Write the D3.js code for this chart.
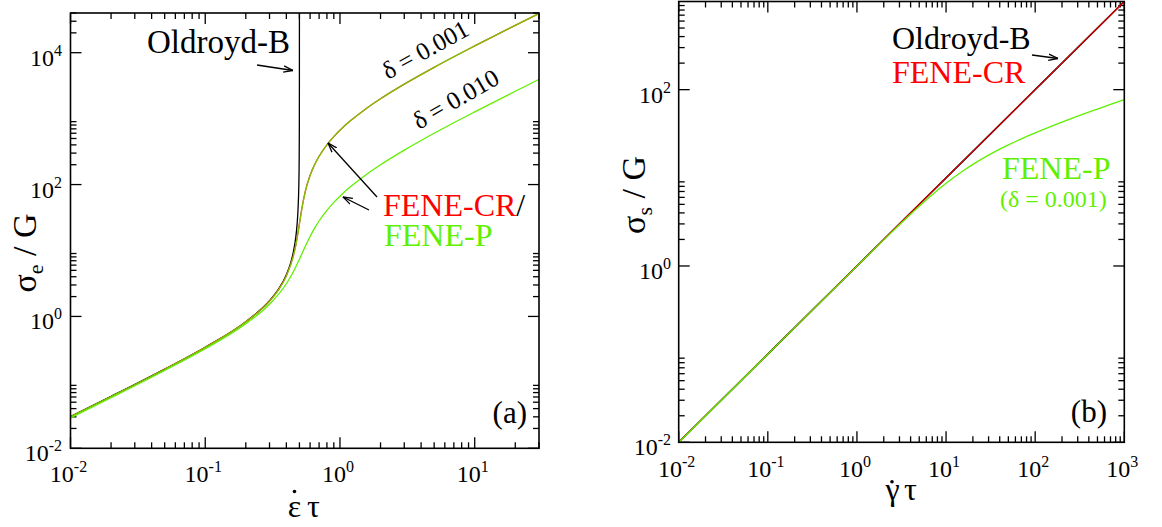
<!DOCTYPE html>
<html>
<head>
<meta charset="utf-8">
<script src="https://cdn.jsdelivr.net/npm/d3@7"></script>
<style>
  body { margin: 0; background: #fff; }
  svg { display: block; }
  svg text { font-family: "Liberation Serif", "Tinos", "Times New Roman", "Times", "DejaVu Serif", "Noto Serif", serif; }
</style>
</head>
<body>
<svg id="chart" width="1162" height="527"></svg>
<script>
// ---------------- DATA ----------------
// Panel (a): extensional stress vs. extension rate
const oldroydExtRate = [0.01, 0.02, 0.05, 0.1, 0.2, 0.3, 0.35, 0.4, 0.43, 0.45, 0.47, 0.48, 0.49, 0.495, 0.498, 0.499, 0.4995, 0.4998, 0.4999, 0.49995, 0.49998, 0.49999];
const oldroydExt     = [0.0303, 0.0613, 0.159, 0.341, 0.833, 1.73, 2.59, 4.29, 6.44, 9.31, 16.0, 24.3, 49.3, 99.3, 249, 499, 999, 2500, 5000, 10000, 25000, 50000];

const feneExtRate001 = [0.01, 0.02, 0.05, 0.1, 0.2, 0.3, 0.35, 0.4, 0.45, 0.47, 0.49, 0.5, 0.52, 0.55, 0.6, 0.65, 0.7, 0.8, 0.9, 1, 1.2, 1.5, 2, 3, 5, 10, 20, 30];
const feneCRExt001   = [0.0302, 0.0610, 0.158, 0.340, 0.829, 1.713, 2.55, 4.14, 8.23, 12.1, 19.6, 25.5, 42.1, 75.4, 138.1, 203, 269, 401.3, 534, 667, 933, 1333, 1999, 3333, 6000, 12670, 26010, 39350];
const fenePExt001    = [0.0302, 0.0610, 0.158, 0.339, 0.827, 1.707, 2.537, 4.105, 8.11, 11.93, 19.24, 25.0, 41.4, 74.5, 137.2, 202.4, 268.3, 400.8, 533.9, 667, 933.5, 1333, 1999, 3333, 6001, 12671, 26012, 39350];

const feneExtRate010 = [0.01, 0.02, 0.05, 0.1, 0.2, 0.3, 0.4, 0.45, 0.5, 0.55, 0.6, 0.65, 0.7, 0.8, 0.9, 1, 1.2, 1.5, 2, 3, 5, 10, 20, 30];
const fenePExt010    = [0.0290, 0.0586, 0.1515, 0.3237, 0.776, 1.531, 3.129, 4.724, 7.357, 11.31, 16.32, 21.99, 28.0, 40.65, 53.6, 66.7, 93.1, 132.9, 199.4, 332.7, 599.4, 1266, 2600, 3935];

// Panel (b): shear stress vs. shear rate
const shearRate      = [0.01, 0.1, 1, 10, 100, 1000];
const oldroydShear   = [0.01, 0.1, 1, 10, 100, 1000];
const feneCRShear    = [0.01, 0.1, 1, 10, 100, 1000];
const fenePShearRate = [0.01, 0.1, 1, 2, 3, 5, 7, 10, 15, 20, 30, 50, 70, 100, 200, 300, 500, 700, 1000];
const fenePShear     = [0.00997, 0.0997, 0.997, 1.978, 2.939, 4.769, 6.445, 8.671, 11.73, 14.21, 18.09, 23.6, 27.65, 32.3, 42.8, 50.0, 60.3, 68.1, 77.3];

// Axis ticks (major values and their exponent labels)
const xMajorA = [1e-2, 1e-1, 1e0, 1e1];
const xLabelA = ["-2", "-1", "0", "1"];
const yMajorA = [1e-2, 1e0, 1e2, 1e4];
const yLabelA = ["-2", "0", "2", "4"];
const xMajorB = [1e-2, 1e-1, 1e0, 1e1, 1e2, 1e3];
const xLabelB = ["-2", "-1", "0", "1", "2", "3"];
const yMajorB = [1e-2, 1e0, 1e2];
const yLabelB = ["-2", "0", "2"];

// ---------------- STYLE ----------------
const RED = "#ff0000";
const GREEN = "#5ff000";
const FONT = "'Liberation Serif', 'Tinos', 'Times New Roman', 'DejaVu Serif', serif";
const svg = d3.select("#chart");

const defs = svg.append("defs");
defs.append("marker")
  .attr("id", "arrow")
  .attr("viewBox", "0 0 10 8")
  .attr("refX", 9.5).attr("refY", 4)
  .attr("markerWidth", 10).attr("markerHeight", 8)
  .attr("markerUnits", "userSpaceOnUse")
  .attr("orient", "auto")
  .append("path")
  .attr("d", "M0,0.8 L9.5,4 L0,7.2")
  .attr("fill", "none").attr("stroke", "#000").attr("stroke-width", 1.3);

function zip(a, b) { return a.map((v, i) => [v, b[i]]); }
function txt(sel) { return sel.append("text").attr("font-family", FONT); }

function panel(opts) {
  const { id, x, y, xMajor, xLabel, yMajor, yLabel, yMinorBases, xLabelBase, yLabelEnd } = opts;
  const g = svg.append("g");
  const [x0, x1] = x.range();
  const [y0, y1] = y.range();
  const xMax = x.domain()[1], yMax = y.domain()[1];

  defs.append("clipPath").attr("id", "clip" + id)
    .append("rect").attr("x", x0).attr("y", y1).attr("width", x1 - x0).attr("height", y0 - y1);

  const MAJ = 11, MIN = 6;
  const xMinor = [];
  xMajor.forEach(d => { for (let k = 2; k <= 9; k++) { const v = d * k; if (v <= xMax * 1.0001) xMinor.push(v); } });
  const yMinor = [];
  yMinorBases.forEach(d => { for (let k = 2; k <= 9; k++) { const v = d * k; if (v <= yMax * 1.0001) yMinor.push(v); } });

  const tk = g.append("g").attr("stroke", "#000").attr("stroke-width", 1.3);
  xMajor.forEach(v => {
    tk.append("line").attr("x1", x(v)).attr("x2", x(v)).attr("y1", y0).attr("y2", y0 - MAJ);
    tk.append("line").attr("x1", x(v)).attr("x2", x(v)).attr("y1", y1).attr("y2", y1 + MAJ);
  });
  xMinor.forEach(v => {
    tk.append("line").attr("x1", x(v)).attr("x2", x(v)).attr("y1", y0).attr("y2", y0 - MIN);
    tk.append("line").attr("x1", x(v)).attr("x2", x(v)).attr("y1", y1).attr("y2", y1 + MIN);
  });
  yMajor.forEach(v => {
    tk.append("line").attr("y1", y(v)).attr("y2", y(v)).attr("x1", x0).attr("x2", x0 + MAJ);
    tk.append("line").attr("y1", y(v)).attr("y2", y(v)).attr("x1", x1).attr("x2", x1 - MAJ);
  });
  yMinor.forEach(v => {
    tk.append("line").attr("y1", y(v)).attr("y2", y(v)).attr("x1", x0).attr("x2", x0 + MIN);
    tk.append("line").attr("y1", y(v)).attr("y2", y(v)).attr("x1", x1).attr("x2", x1 - MIN);
  });

  xMajor.forEach((v, i) => {
    const t = txt(g).attr("x", x(v) - 2).attr("y", xLabelBase)
      .attr("text-anchor", "middle").attr("font-size", 24);
    t.append("tspan").text("10");
    t.append("tspan").attr("dy", -10).attr("font-size", 16).text(xLabel[i]);
  });
  yMajor.forEach((v, i) => {
    const t = txt(g).attr("x", yLabelEnd).attr("y", y(v) + 13)
      .attr("text-anchor", "end").attr("font-size", 24);
    t.append("tspan").text("10");
    t.append("tspan").attr("dy", -10).attr("font-size", 16).text(yLabel[i]);
  });

  const plot = g.append("g").attr("clip-path", `url(#clip${id})`);
  return { g, plot, x, y, frame: () => g.append("rect").attr("x", x0).attr("y", y1)
      .attr("width", x1 - x0).attr("height", y0 - y1)
      .attr("fill", "none").attr("stroke", "#000").attr("stroke-width", 1.6) };
}

// ---------------- PANEL (a) ----------------
const xA = d3.scaleLog().domain([0.01, 30]).range([70.5, 539]);
const yA = d3.scaleLog().domain([0.01, 4e4]).range([448.3, 13]);
const A = panel({ id: "A", x: xA, y: yA, xMajor: xMajorA, xLabel: xLabelA, yMajor: yMajorA, yLabel: yLabelA,
  yMinorBases: yMajorA, xLabelBase: 482, yLabelEnd: 62 });

const lineA = d3.line().x(d => xA(d[0])).y(d => yA(d[1])).curve(d3.curveMonotoneX);
A.plot.append("path").datum(zip(oldroydExtRate, oldroydExt)).attr("d", lineA)
  .attr("fill", "none").attr("stroke", "#000").attr("stroke-width", 1.3);
A.plot.append("path").datum(zip(feneExtRate001, feneCRExt001)).attr("d", lineA)
  .attr("fill", "none").attr("stroke", RED).attr("stroke-width", 1.3);
A.plot.append("path").datum(zip(feneExtRate001, fenePExt001)).attr("d", lineA)
  .attr("fill", "none").attr("stroke", GREEN).attr("stroke-width", 1.3).attr("stroke-opacity", 0.8);
A.plot.append("path").datum(zip(feneExtRate010, fenePExt010)).attr("d", lineA)
  .attr("fill", "none").attr("stroke", GREEN).attr("stroke-width", 1.3);
A.frame();

// annotations (a)
txt(A.g).attr("x", 147).attr("y", 53).attr("font-size", 33).text("Oldroyd-B");
A.g.append("line").attr("x1", 257).attr("y1", 65).attr("x2", 293).attr("y2", 70.5)
  .attr("stroke", "#000").attr("stroke-width", 1.3).attr("marker-end", "url(#arrow)");
txt(A.g).attr("font-size", 25).attr("transform", "translate(388,80) rotate(-29)").text("δ = 0.001");
txt(A.g).attr("font-size", 25).attr("transform", "translate(419,130) rotate(-30)").text("δ = 0.010");
const fcr = txt(A.g).attr("x", 383).attr("y", 216).attr("font-size", 32);
fcr.append("tspan").attr("fill", RED).text("FENE-CR");
fcr.append("tspan").attr("fill", "#000").text("/");
txt(A.g).attr("x", 384).attr("y", 246).attr("font-size", 32).attr("fill", GREEN).text("FENE-P");
A.g.append("line").attr("x1", 377).attr("y1", 197).attr("x2", 328).attr("y2", 143)
  .attr("stroke", "#000").attr("stroke-width", 1.3).attr("marker-end", "url(#arrow)");
A.g.append("line").attr("x1", 369).attr("y1", 210).attr("x2", 343).attr("y2", 197)
  .attr("stroke", "#000").attr("stroke-width", 1.3).attr("marker-end", "url(#arrow)");
txt(A.g).attr("x", 527).attr("y", 423).attr("text-anchor", "end").attr("font-size", 31).text("(a)");

// axis titles (a)
const ytA = txt(A.g).attr("font-size", 34).attr("text-anchor", "middle")
  .attr("transform", "translate(36,253) rotate(-90)");
ytA.append("tspan").text("σ");
ytA.append("tspan").attr("font-size", 22).attr("dy", 7).text("e");
ytA.append("tspan").attr("dy", -7).text(" / G");
txt(A.g).attr("x", 294.5).attr("y", 517).attr("text-anchor", "middle").attr("font-size", 32).text("ε");
txt(A.g).attr("x", 313.5).attr("y", 517).attr("text-anchor", "middle").attr("font-size", 32).text("τ");
A.g.append("circle").attr("cx", 294.5).attr("cy", 491.5).attr("r", 1.8).attr("fill", "#000");

// ---------------- PANEL (b) ----------------
const xB = d3.scaleLog().domain([0.01, 1000]).range([678.7, 1124.3]);
const yB = d3.scaleLog().domain([0.01, 1000]).range([442.3, 1.5]);
const B = panel({ id: "B", x: xB, y: yB, xMajor: xMajorB, xLabel: xLabelB, yMajor: yMajorB, yLabel: yLabelB,
  yMinorBases: yMajorB, xLabelBase: 477, yLabelEnd: 671 });

const lineB = d3.line().x(d => xB(d[0])).y(d => yB(d[1])).curve(d3.curveMonotoneX);
B.plot.append("path").datum(zip(shearRate, oldroydShear)).attr("d", lineB)
  .attr("fill", "none").attr("stroke", "#000").attr("stroke-width", 1.6);
B.plot.append("path").datum(zip(shearRate, feneCRShear)).attr("d", lineB)
  .attr("fill", "none").attr("stroke", RED).attr("stroke-width", 1.2).attr("stroke-opacity", 0.9);
B.plot.append("path").datum(zip(fenePShearRate, fenePShear)).attr("d", lineB)
  .attr("fill", "none").attr("stroke", GREEN).attr("stroke-width", 1.3);
B.frame();

// annotations (b)
txt(B.g).attr("x", 892).attr("y", 49).attr("font-size", 32).text("Oldroyd-B");
txt(B.g).attr("x", 892).attr("y", 83).attr("font-size", 32).attr("fill", RED).text("FENE-CR");
B.g.append("line").attr("x1", 1032).attr("y1", 55).attr("x2", 1058).attr("y2", 58.5)
  .attr("stroke", "#000").attr("stroke-width", 1.3).attr("marker-end", "url(#arrow)");
txt(B.g).attr("x", 1002).attr("y", 179).attr("font-size", 32).attr("fill", GREEN).text("FENE-P");
txt(B.g).attr("x", 1000).attr("y", 207).attr("font-size", 24).attr("fill", GREEN).text("(δ = 0.001)");
txt(B.g).attr("x", 1107).attr("y", 422).attr("text-anchor", "end").attr("font-size", 31).text("(b)");

const ytB = txt(B.g).attr("font-size", 34).attr("text-anchor", "middle")
  .attr("transform", "translate(645,195) rotate(-90)");
ytB.append("tspan").text("σ");
ytB.append("tspan").attr("font-size", 22).attr("dy", 7).text("s");
ytB.append("tspan").attr("dy", -7).text(" / G");
txt(B.g).attr("x", 892.5).attr("y", 500).attr("text-anchor", "middle").attr("font-size", 32).text("γ");
txt(B.g).attr("x", 910.5).attr("y", 500).attr("text-anchor", "middle").attr("font-size", 32).text("τ");
B.g.append("circle").attr("cx", 892).attr("cy", 481.7).attr("r", 1.8).attr("fill", "#000");
</script>
</body>
</html>
